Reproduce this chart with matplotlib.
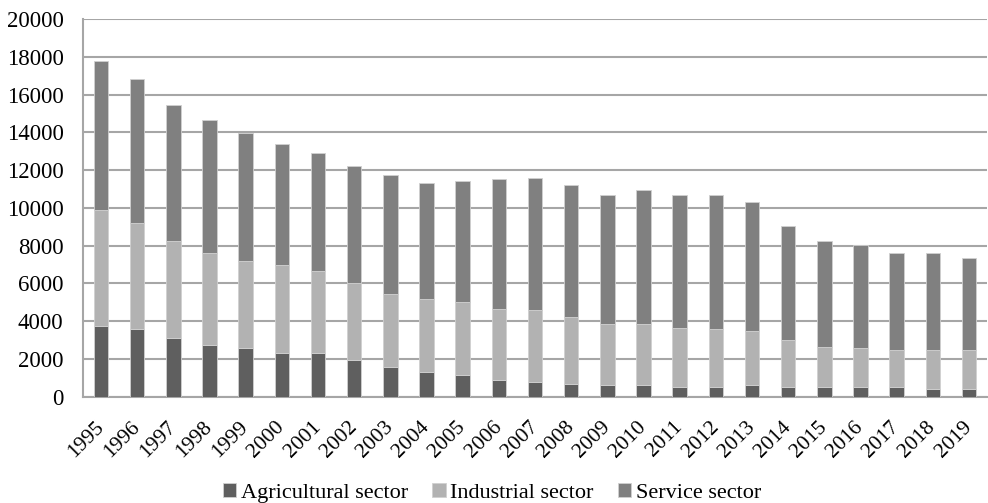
import numpy as np
import matplotlib
matplotlib.use("Agg")
import matplotlib.pyplot as plt

plt.rcParams["font.family"] = ["Liberation Serif", "DejaVu Serif"]

# ── data: employment by sector, stacked ─────────────────────
years = [str(y) for y in range(1995, 2020)]
agricultural = [3750, 3570, 3120, 2750, 2560, 2300, 2300, 1940, 1590, 1310,
                1130, 870, 760, 670, 600, 600, 500, 500, 600, 500,
                500, 500, 500, 410, 410]
industrial_top = [9900, 9180, 8260, 7630, 7170, 6990, 6640, 6000, 5450, 5190,
                  5000, 4640, 4570, 4200, 3830, 3830, 3650, 3570, 3480, 3020,
                  2650, 2580, 2470, 2470, 2470]
total = [17800, 16810, 15460, 14650, 13980, 13380, 12920, 12220, 11760, 11300,
         11400, 11510, 11580, 11230, 10680, 10960, 10680, 10680, 10310, 9060,
         8240, 8050, 7610, 7610, 7330]

industrial = [t - a for t, a in zip(industrial_top, agricultural)]
service = [t - i for t, i in zip(total, industrial_top)]

series = [
    ("Agricultural sector", agricultural, "#5f5f5f"),
    ("Industrial sector", industrial, "#b2b2b2"),
    ("Service sector", service, "#808080"),
]

fig = plt.figure(figsize=(9.88, 5.03), dpi=100)
ax = fig.add_axes([0.084, 0.2113, 0.915, 0.751])

x = np.arange(len(years))
bottom = np.zeros(len(years))
for name, vals, col in series:
    ax.bar(x, vals, width=0.4, bottom=bottom, color=col, label=name,
           edgecolor="#d0d0d0", linewidth=0.6, zorder=3)
    bottom += np.array(vals)

ax.set_xlim(-0.5, len(years) - 0.5)
ax.set_ylim(0, 20000)
ax.set_yticks(range(0, 20001, 2000))
ax.yaxis.grid(True, color="#a6a6a6", linewidth=1.5, zorder=0)
ax.set_axisbelow(True)

ax.set_xticks(x)
ax.set_xticklabels(years, rotation=45, ha="right", va="center",
                   rotation_mode="anchor", fontsize=15.5)
ax.tick_params(axis="both", length=0)
ax.tick_params(axis="y", labelsize=16.5, pad=14)
ax.tick_params(axis="x", pad=20)

for side in ["top", "right"]:
    ax.spines[side].set_visible(False)
for side in ["left", "bottom"]:
    ax.spines[side].set_color("#a6a6a6")
    ax.spines[side].set_linewidth(1.5)

fig.legend(loc="center", bbox_to_anchor=(0.498, 0.02), ncol=3,
           frameon=False, fontsize=16, handlelength=0.6, handleheight=0.6,
           handletextpad=0.2, columnspacing=1.1)

fig.savefig("out.png", dpi=100)
